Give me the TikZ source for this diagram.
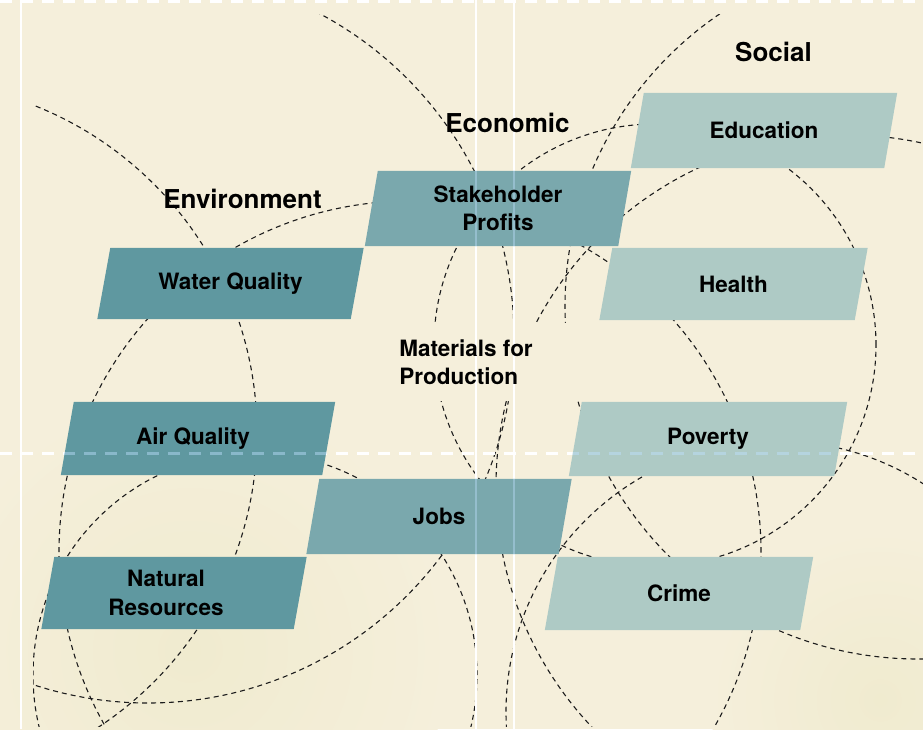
\documentclass[tikz,border=0pt]{standalone}
\usepackage{fontspec}
\setmainfont{TeX Gyre Heros}

\definecolor{paper}{HTML}{F5EFDB}
\definecolor{envfill}{HTML}{5F98A0}
\definecolor{ecofill}{HTML}{7AA8AD}
\definecolor{socfill}{HTML}{AECAC5}
\definecolor{ink}{HTML}{1C1C1C}
\definecolor{sheen}{RGB}{190,225,255}
\definecolor{blot}{HTML}{F0EBCF}

\pgfdeclarelayer{paperlayer}
\pgfdeclarelayer{blanklayer}
\pgfdeclarelayer{rulelayer}
\pgfdeclarelayer{slablayer}
\pgfdeclarelayer{sheenlayer}
\pgfsetlayers{paperlayer,blanklayer,rulelayer,slablayer,sheenlayer,main}

\tikzset{
  slab/.style={rectangle, inner sep=0pt, align=center, text=black,
    font=\bfseries\fontsize{22.5}{28.5}\selectfont},
  ring/.style={draw=ink, line width=1.1pt, dash pattern=on 5pt off 4pt},
  heading/.style={font=\bfseries\fontsize{26}{30}\selectfont, anchor=base, inner sep=0pt},
  rule/.style={draw=white, line width=1.6pt},
  dashrule/.style={draw=white, line width=3pt, dash pattern=on 12pt off 9pt},
}

% leaning slab outline around a node: top edge pushed right, bottom edge pushed left;
% the second argument moves the outline sideways relative to the text
\newcommand\slabpath[2]{([xshift=6.5pt+#2]#1.north west) -- ([xshift=6.5pt+#2]#1.north east)
  -- ([xshift=-6.5pt+#2]#1.south east) -- ([xshift=-6.5pt+#2]#1.south west) -- cycle}

\begin{document}
\begin{tikzpicture}[x=1pt, y=-1pt]
  \useasboundingbox (0,0) rectangle (923,729);

  % paper
  \begin{pgfonlayer}{paperlayer}
    \fill[paper] (0,0) rectangle (923,729);
    \shade[inner color=blot, outer color=paper] (190,650) circle[radius=260pt];
    \shade[inner color=blot, outer color=paper] (880,700) circle[radius=170pt];
    % dashed circles, cut to the inner frame
    \begin{scope}
      \clip (33,14) rectangle (923,726);
      \draw[ring] (148,337) circle[radius=366pt];
      \draw[ring] (-95,433) circle[radius=352pt];
      \draw[ring] (410,552) circle[radius=351pt];
      \draw[ring] (655,345) circle[radius=221pt];
      \draw[ring] (255,675) circle[radius=222pt];
      \draw[ring] (847,486) circle[radius=351pt];
      \draw[ring] (918,306) circle[radius=353pt];
      \draw[ring] (777,712) circle[radius=271pt];
    \end{scope}
  \end{pgfonlayer}

  % grid lines of the paper
  \begin{pgfonlayer}{rulelayer}
    \draw[rule, line width=2pt] (21,0) -- (21,729);
    \draw[rule] (476,0) -- (476,729);
    \draw[rule] (514,0) -- (514,729);
    \draw[dashrule] (0,453) -- (923,453);
    \draw[dashrule] (0,1.5) -- (923,1.5);
  \end{pgfonlayer}

  % free text, on a plain slab that covers the circles behind it
  \node[slab, align=left, minimum width=253, minimum height=78] (mat) at (466,362)
    {Materials for\\Production};

  % environment column
  \node[slab, minimum width=253, minimum height=71] (water) at (230.5,283.5) {Water Quality};
  \node[slab, minimum width=261, minimum height=73] (air) at (193,438.5) {Air Quality};
  \node[slab, minimum width=252, minimum height=72] (natural) at (166,593) {Natural\\Resources};

  % economic column
  \node[slab, minimum width=253, minimum height=75] (stake) at (498,208.5) {Stakeholder\\Profits};
  \node[slab, minimum width=252, minimum height=75] (jobs) at (439,516.5) {Jobs};

  % social column
  \node[slab, minimum width=253, minimum height=75] (edu) at (764,130.5) {Education};
  \node[slab, minimum width=255, minimum height=72] (health) at (733.5,284) {Health};
  \node[slab, minimum width=265, minimum height=74] (poverty) at (708,439) {Poverty};
  \node[slab, minimum width=255, minimum height=73] (crime) at (679,593.5) {Crime};

  \begin{pgfonlayer}{blanklayer}
    \fill[paper] \slabpath{mat}{0pt};
  \end{pgfonlayer}

  \begin{pgfonlayer}{slablayer}
    \fill[envfill] \slabpath{water}{0pt};
    \fill[envfill] \slabpath{air}{5pt};
    \fill[envfill] \slabpath{natural}{8pt};
    \fill[ecofill] \slabpath{stake}{0pt};
    \fill[ecofill] \slabpath{jobs}{0pt};
    \fill[socfill] \slabpath{edu}{0pt};
    \fill[socfill] \slabpath{health}{0pt};
    \fill[socfill] \slabpath{poverty}{0pt};
    \fill[socfill] \slabpath{crime}{0pt};
  \end{pgfonlayer}

  % grid lines showing faintly through the slabs
  \begin{pgfonlayer}{sheenlayer}
    \begin{scope}
      \clip \slabpath{stake}{0pt} \slabpath{jobs}{0pt} \slabpath{air}{5pt} \slabpath{poverty}{0pt};
      \draw[draw=sheen, opacity=0.4, line width=1.6pt] (476,0) -- (476,729) (514,0) -- (514,729);
      \draw[draw=sheen, opacity=0.45, line width=3pt, dash pattern=on 12pt off 9pt] (0,453) -- (923,453);
    \end{scope}
  \end{pgfonlayer}

  % column headings
  \node[heading] (hsoc) at (773.5,61) {Social};
  \node[heading] (heco) at (507.5,132) {Economic};
  \node[heading] (henv) at (242.5,208) {Environment};
\end{tikzpicture}
\end{document}
